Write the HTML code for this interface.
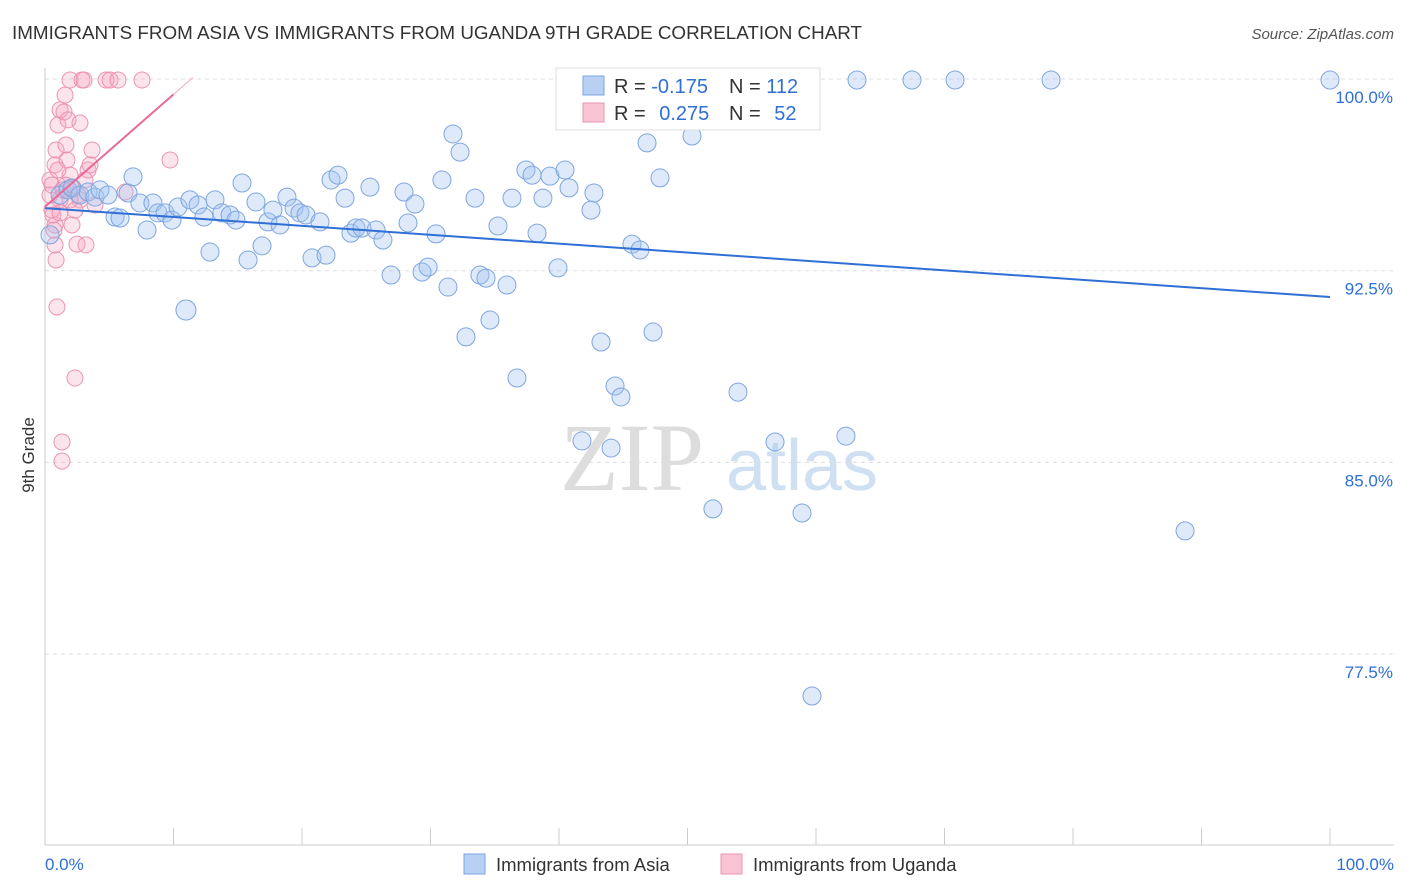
<!DOCTYPE html>
<html><head><meta charset="utf-8"><style>
body{margin:0;background:#fff;font-family:"Liberation Sans",sans-serif}
svg{display:block}
</style></head><body>
<svg id="c" width="1406" height="892" xmlns="http://www.w3.org/2000/svg">
<text x="12" y="39" font-size="18.8" fill="#333" textLength="850" lengthAdjust="spacingAndGlyphs">IMMIGRANTS FROM ASIA VS IMMIGRANTS FROM UGANDA 9TH GRADE CORRELATION CHART</text>
<text x="1394" y="39" font-size="15" fill="#555" font-style="italic" text-anchor="end">Source: ZipAtlas.com</text>
<text x="34" y="455" font-size="17" fill="#333" transform="rotate(-90 34 455)" text-anchor="middle">9th Grade</text>
<g>
<text x="632" y="490" font-size="96" font-family="Liberation Serif,serif" fill="#ddd" text-anchor="middle">ZIP</text>
<text x="802" y="490" font-size="72" fill="#cfe0f3" text-anchor="middle">atlas</text>
</g>
<g id="grid"></g><g id="axes"></g><g id="pts"></g><g id="trend"></g>
<g>
<rect x="556" y="68" width="264" height="62" fill="#fff" stroke="#ddd"/>
<rect x="583" y="76" width="21" height="19" fill="#b8d0f3" stroke="#7ea6e0"/>
<rect x="583" y="103" width="21" height="19" fill="#f8c4d4" stroke="#eb94b2"/>
<text x="614" y="93" font-size="20" fill="#333">R = <tspan fill="#2f6fd6">-0.175</tspan></text>
<text x="729" y="93" font-size="20" fill="#333">N = <tspan fill="#2f6fd6">112</tspan></text>
<text x="614" y="120" font-size="20" fill="#333">R = <tspan fill="#2f6fd6" dx="8">0.275</tspan></text>
<text x="729" y="120" font-size="20" fill="#333">N = <tspan fill="#2f6fd6" dx="8">52</tspan></text>
</g>
<g>
<rect x="464" y="854" width="21" height="20" fill="#b8d0f3" stroke="#7ea6e0"/>
<text x="496" y="871" font-size="18.5" fill="#333">Immigrants from Asia</text>
<rect x="721" y="854" width="21" height="20" fill="#f8c4d4" stroke="#eb94b2"/>
<text x="753" y="871" font-size="18.5" fill="#333">Immigrants from Uganda</text>
</g>
<text x="45" y="870" font-size="17" fill="#2f6fd6">0.0%</text>
<text x="1394" y="870" font-size="17" fill="#2f6fd6" text-anchor="end">100.0%</text>
</svg>
<script>
const yTicks=[100,92.5,85,77.5];
const yTickLabels=["100.0%","92.5%","85.0%","77.5%"];
const asiaX=[0.39,1.17,1.79,2.10,2.72,3.35,3.89,4.28,4.90,5.45,5.84,6.46,6.85,7.39,7.94,8.40,8.79,9.34,9.88,10.35,10.97,11.28,11.91,12.37,12.84,13.23,13.77,14.40,14.86,15.33,15.80,16.42,16.89,17.35,17.74,18.29,18.83,19.38,19.84,20.31,20.78,21.40,21.87,22.26,22.80,23.35,23.81,24.20,24.67,25.29,25.76,26.30,26.93,27.94,28.25,28.79,29.34,29.81,30.43,30.89,31.36,31.75,32.30,32.76,33.46,33.85,34.32,34.63,35.25,35.95,36.34,36.73,37.43,37.90,38.29,38.75,39.30,39.92,40.47,40.78,41.79,42.72,42.49,43.27,44.05,44.36,44.82,45.68,46.30,46.85,47.32,47.86,50.35,51.98,52.37,53.07,53.93,56.81,58.91,59.69,62.33,63.19,67.47,70.82,78.29,88.72,100,52.68];
const asiaY=[93.9,95.46,95.66,95.74,95.46,95.58,95.38,95.66,95.46,94.60,94.56,95.54,96.17,95.15,94.09,95.15,94.76,94.76,94.48,94.99,90.96,95.27,95.07,94.60,93.23,95.27,94.76,94.68,94.48,95.93,92.92,95.19,93.47,94.41,94.87,94.29,95.38,94.95,94.76,94.68,93.00,94.41,93.11,96.05,96.24,95.34,93.97,94.17,94.17,95.77,94.09,93.70,92.33,95.58,94.37,95.11,92.45,92.64,93.94,96.05,91.86,97.85,97.14,89.91,95.34,92.33,92.21,90.57,94.25,91.94,95.34,88.30,96.44,96.24,93.97,95.34,96.20,92.61,96.44,95.74,85.84,95.54,94.87,89.71,85.56,87.99,87.56,93.54,93.31,97.50,90.10,96.13,97.77,83.18,98.87,99.96,87.75,85.80,83.02,75.86,86.03,99.96,99.96,99.96,99.96,82.32,99.96,99.96];
const ugX=[0.39,0.54,0.78,0.78,0.86,0.93,0.78,0.86,1.01,1.17,1.32,1.32,1.48,1.56,1.63,1.71,1.79,1.95,1.95,2.10,2.33,2.49,2.57,2.72,2.72,2.88,3.04,3.19,3.35,3.50,3.66,3.89,4.75,5.06,5.68,6.23,7.55,9.73,0.39,0.54,1.17,1.01,1.40,1.63,1.95,2.33,3.11,2.10,0.70,0.62,1.17];
const ugY=[95.46,94.87,94.29,93.51,92.92,91.08,96.64,97.22,98.20,98.79,85.80,85.05,98.71,99.37,97.42,96.83,98.40,99.96,96.24,94.29,88.30,93.54,95.46,98.28,95.27,99.96,99.96,93.51,96.44,96.64,97.22,95.07,99.96,99.96,99.96,95.58,99.96,96.83,96.05,95.85,95.27,96.44,95.66,95.85,95.27,94.87,96.05,95.74,94.09,94.68,94.76];
const asiaTrend=[94.95,91.47];
const ugTrend=[95.0,99.4];
const sx=v=>45+v*12.85, sy=v=>79+(100-v)*25.56;
const NS="http://www.w3.org/2000/svg";
function mk(t,a,p){const e=document.createElementNS(NS,t);for(const k in a)e.setAttribute(k,a[k]);p.appendChild(e);return e;}
const g=document.getElementById('grid');
yTicks.forEach((t,i)=>{
 const l=mk('line',{x1:45,x2:1394,y1:sy(t),y2:sy(t),stroke:'#ddd','stroke-dasharray':'4,4'},g);
 
 
 const tx=mk('text',{x:1393,y:sy(t)+24,'font-size':17,fill:'#2f6fd6','text-anchor':'end'},g);
 tx.textContent=yTickLabels[i];
 
 
});
const ax=document.getElementById('axes');
mk('line',{x1:45,x2:45,y1:68,y2:845,stroke:'#ccc'},ax);
mk('line',{x1:45,x2:1394,y1:845,y2:845,stroke:'#ccc'},ax);
for(let i=0;i<=10;i++){mk('line',{x1:sx(i*10),x2:sx(i*10),y1:828,y2:845,stroke:'#ccc'},ax);}
const p=document.getElementById('pts');
ugX.forEach((x,i)=>{const c=mk('circle',{cx:sx(x),cy:sy(ugY[i]),r:8,fill:'rgba(245,165,192,0.3)',stroke:'#eb94b2','stroke-width':1},p);
 
 });
asiaX.forEach((x,i)=>{const c=mk('circle',{cx:sx(x),cy:sy(asiaY[i]),r:i==20?10:9,fill:'rgba(160,195,240,0.35)',stroke:'#7ea6e0','stroke-width':1},p);
 
 });
const tr=document.getElementById('trend');
const l1=mk('line',{x1:sx(0),y1:sy(asiaTrend[0]),x2:sx(100),y2:sy(asiaTrend[1]),stroke:'#2f6fd6','stroke-width':2},tr);


const l2=mk('line',{x1:sx(0),y1:sy(ugTrend[0]),x2:sx(10),y2:sy(ugTrend[1]),stroke:'#e8699a','stroke-width':2},tr);


const s=(ugTrend[1]-ugTrend[0])/10;
const l3=mk('line',{x1:sx(10),y1:sy(ugTrend[1]),x2:sx(11.5),y2:sy(ugTrend[1]+1.5*s),stroke:'#f2a9c4','stroke-width':1},tr);


</script>
</body></html>
